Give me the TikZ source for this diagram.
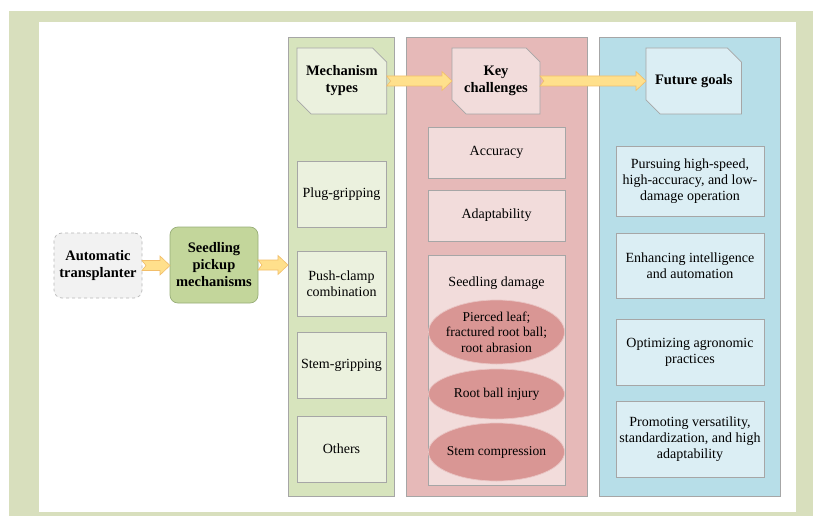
\documentclass[tikz,border=0pt]{standalone}
\usepackage{fontspec}
\setmainfont{Liberation Serif}
\newfontfamily\labelface{Liberation Serif}
\usetikzlibrary{shapes.misc,shapes.geometric,calc}

\definecolor{frameGreen}{HTML}{D8DFBD}
\definecolor{colGreen}{HTML}{D7E4BD}
\definecolor{cellGreen}{HTML}{EBF1DE}
\definecolor{colRed}{HTML}{E6B9B8}
\definecolor{cellRed}{HTML}{F2DCDB}
\definecolor{ellRed}{HTML}{D99694}
\definecolor{ellEdge}{HTML}{E9C4C3}
\definecolor{colBlue}{HTML}{B7DEE8}
\definecolor{cellBlue}{HTML}{DBEEF4}
\definecolor{pickGreen}{HTML}{C3D69B}
\definecolor{pickEdge}{HTML}{98AE78}
\definecolor{autoGray}{HTML}{F2F2F2}
\definecolor{edgeGray}{HTML}{A6A6A6}
\definecolor{arrowFill}{HTML}{FFE08C}
\definecolor{arrowEdge}{HTML}{F2BE6A}

\tikzset{
  every node/.style={font=\labelface\fontsize{14}{16}\selectfont, align=center, outer sep=0pt, inner sep=2pt},
  column/.style={rectangle, draw=edgeGray, line width=0.7pt, anchor=north west},
  cell/.style={rectangle, draw=edgeGray, line width=0.7pt, anchor=north west},
  header/.style={chamfered rectangle, chamfered rectangle corners={north east,south west},
    chamfered rectangle sep=7pt, draw=edgeGray, line width=0.7pt, anchor=north west,
    font=\labelface\fontsize{14.5}{17}\selectfont\bfseries},
  damage/.style={ellipse, fill=ellRed, draw=ellEdge, line width=0.7pt, inner sep=0pt},
  flow/.style={fill=arrowFill, draw=arrowEdge, line width=0.6pt, line join=miter},
}

% notched block arrow from one anchor to another, at the height of the first
\newcommand\flowarrow[2]{%
  \path[flow] let \p1=(#1), \p2=(#2) in
    (\x1,\y1+5pt) -- (\x2-10pt,\y1+5pt) -- (\x2-10pt,\y1+9.5pt) -- (\x2,\y1)
    -- (\x2-10pt,\y1-9.5pt) -- (\x2-10pt,\y1-5pt) -- (\x1,\y1-5pt) -- (\x1+4pt,\y1) -- cycle;}

\begin{document}
\begin{tikzpicture}[x=1pt,y=-1pt]
\useasboundingbox (0,0) rectangle (813,516);

% outer frame and white panel
\fill[frameGreen] (9,11) rectangle (813,516);
\fill[white] (39,22) rectangle (796,512);

% columns
\node[column, fill=colGreen, minimum width=106pt, minimum height=459pt] (colMech) at (288,37) {};
\node[column, fill=colRed, minimum width=181pt, minimum height=459pt] (colKey) at (406,37) {};
\node[column, fill=colBlue, minimum width=181pt, minimum height=459pt] (colGoal) at (599,37) {};

% headers
\node[header, fill=cellGreen, minimum width=89pt, minimum height=66pt] (mech) at (297,48) {Mechanism\\types};
\node[header, fill=cellRed, minimum width=88pt, minimum height=66pt] (key) at (452,48) {Key\\challenges};
\node[header, fill=cellBlue, minimum width=88pt, minimum height=66pt] (goal) at (646,48) {Future goals};

% left part
\node[anchor=north west, rectangle, rounded corners=8pt, fill=autoGray, draw=edgeGray!80, dashed,
      line width=0.7pt, minimum width=88pt, minimum height=65pt,
      font=\labelface\fontsize{14.5}{17}\selectfont\bfseries] (auto) at (54,233) {Automatic\\transplanter};
\node[anchor=north west, rectangle, rounded corners=8pt, fill=pickGreen, draw=pickEdge,
      line width=0.7pt, minimum width=88pt, minimum height=76pt,
      font=\labelface\fontsize{14.5}{17}\selectfont\bfseries] (pick) at (170,227) {Seedling\\pickup\\mechanisms};

% mechanism types
\node[cell, fill=cellGreen, minimum width=89pt, minimum height=66pt] (plug) at (297,161) {Plug-gripping};
\node[cell, fill=cellGreen, minimum width=89pt, minimum height=65pt] (push) at (297,251) {Push-clamp\\combination};
\node[cell, fill=cellGreen, minimum width=89pt, minimum height=66pt] (stem) at (297,332) {Stem-gripping};
\node[cell, fill=cellGreen, minimum width=89pt, minimum height=66pt] (others) at (297,416) {Others};

% key challenges
\node[cell, fill=cellRed, minimum width=137pt, minimum height=51pt] (acc) at (428,127) {Accuracy};
\node[cell, fill=cellRed, minimum width=137pt, minimum height=51pt] (adapt) at (428,190) {Adaptability};
\node[cell, fill=cellRed, minimum width=137pt, minimum height=230pt] (dmg) at (428,255) {};
\node (dmgTitle) at (496.5,283) {Seedling damage};
\node[damage, minimum width=136pt, minimum height=64pt] (leaf) at (496.5,332) {};
\node[damage, minimum width=136pt, minimum height=50pt] (ball) at (496.5,394) {};
\node[damage, minimum width=136pt, minimum height=58pt] (comp) at (496.5,452) {};
\node[font=\labelface\fontsize{13.5}{15.5}\selectfont] (leafText) at (leaf) {Pierced leaf;\\fractured root ball;\\root abrasion};
\node[font=\labelface\fontsize{13.5}{15.5}\selectfont] (ballText) at (ball) {Root ball injury};
\node[font=\labelface\fontsize{13.5}{15.5}\selectfont] (compText) at (comp) {Stem compression};

% future goals
\node[cell, fill=cellBlue, minimum width=148pt, minimum height=70pt] (speed) at (616,146) {Pursuing high-speed,\\high-accuracy, and low-\\damage operation};
\node[cell, fill=cellBlue, minimum width=148pt, minimum height=65pt] (intel) at (616,233) {Enhancing intelligence\\and automation};
\node[cell, fill=cellBlue, minimum width=148pt, minimum height=66pt] (agro) at (616,319) {Optimizing agronomic\\practices};
\node[cell, fill=cellBlue, minimum width=148pt, minimum height=76pt] (vers) at (616,401) {Promoting versatility,\\standardization, and high\\adaptability};

% flow arrows
\flowarrow{auto.east}{pick.west}
\flowarrow{pick.east}{colMech.west}
\flowarrow{mech.east}{key.west}
\flowarrow{key.east}{goal.west}
\end{tikzpicture}
\end{document}
